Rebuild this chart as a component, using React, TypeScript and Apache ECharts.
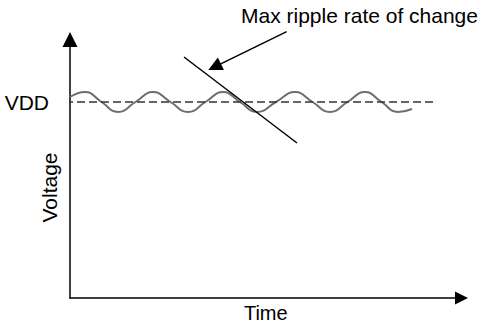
import React, { useEffect, useRef } from "react";
import * as echarts from "echarts";

// Time axis runs 0..X_MAX, voltage axis 0..Y_MAX (arbitrary schematic units)
const X_MAX = 391.5;
const Y_MAX = 258.5;
const VDD = 196;

// Ripple waveform (peaks, crossings, troughs)
const waveTime = [0, 15, 31.5, 48, 65.5, 83, 100.5, 118, 135.5, 153, 170, 187, 206, 225, 242.5, 260, 277.5, 295, 311.5, 328, 342];
const waveVolt = [201, 206, 196, 186, 196, 206, 196, 186, 196, 206, 196, 186, 196, 206, 196, 186, 196, 206, 196, 186, 189];

// Dashed VDD reference line extent
const vddTime = [-17, 365];

// Tangent line at max rate of change
const slopeTime = [114, 227];
const slopeVolt = [241, 155];

// Callout arrow (start, arrow head)
const calloutTime = [216.7, 144.6];
const calloutVolt = [266.3, 231.1];

const FONT = "'Liberation Sans', Arial, Helvetica, sans-serif";

export default function App() {
  const ref = useRef<HTMLDivElement>(null);
  useEffect(() => {
    if (!ref.current) return;
    const chart = echarts.init(ref.current, null, { renderer: "svg" });
    chart.setOption({
      animation: false,
      backgroundColor: "#ffffff",
      textStyle: { fontFamily: FONT },
      grid: { left: 70, right: 18.5, top: 39.5, bottom: 28, containLabel: false, outerBoundsMode: "none" },
      xAxis: {
        type: "value",
        min: 0,
        max: X_MAX,
        name: "Time",
        nameLocation: "middle",
        nameGap: 5,
        nameTextStyle: { fontSize: 20, color: "#000", fontFamily: FONT },
        axisLine: {
          show: true,
          lineStyle: { color: "#000", width: 1.5 },
          symbol: ["none", "triangle"],
          symbolSize: [13, 13],
        },
        axisTick: { show: false },
        axisLabel: { show: false },
        splitLine: { show: false },
      },
      yAxis: {
        type: "value",
        min: 0,
        max: Y_MAX,
        interval: VDD,
        axisLine: {
          show: true,
          lineStyle: { color: "#000", width: 1.5 },
          symbol: ["none", "triangle"],
          symbolSize: [15, 15],
        },
        axisTick: { show: false },
        axisLabel: {
          show: true,
          margin: 21,
          fontSize: 21,
          color: "#000",
          fontFamily: FONT,
          formatter: (v: number) => (v === VDD ? "VDD" : ""),
        },
        splitLine: { show: false },
      },
      graphic: [
        {
          type: "text",
          x: 241,
          y: 15,
          style: {
            text: "Max ripple rate of change",
            fontSize: 21,
            fontFamily: FONT,
            fill: "#000",
            verticalAlign: "middle",
            align: "left",
          },
        },
        {
          type: "text",
          x: 49,
          y: 187.5,
          rotation: Math.PI / 2,
          style: {
            text: "Voltage",
            fontSize: 21,
            fontFamily: FONT,
            fill: "#000",
            verticalAlign: "middle",
            align: "center",
          },
        },
      ],
      series: [
        {
          type: "line",
          silent: true,
          smooth: 0.5,
          symbol: "none",
          data: waveTime.map((t, i) => [t, waveVolt[i]]),
          lineStyle: { color: "#6e6e6e", width: 2 },
          z: 2,
        },
        {
          type: "line",
          silent: true,
          clip: false,
          symbol: "none",
          data: vddTime.map((t) => [t, VDD]),
          lineStyle: { color: "#333", width: 1.5, type: [8, 4] },
          z: 3,
        },
        {
          type: "line",
          silent: true,
          clip: false,
          symbol: "none",
          data: slopeTime.map((t, i) => [t, slopeVolt[i]]),
          lineStyle: { color: "#000", width: 1.5 },
          z: 4,
        },
        {
          type: "line",
          silent: true,
          clip: false,
          showSymbol: true,
          data: [
            { value: [calloutTime[0], calloutVolt[0]], symbol: "none" },
            { value: [calloutTime[1], calloutVolt[1]], symbol: "triangle", symbolSize: 14, symbolRotate: 116 },
          ],
          itemStyle: { color: "#000" },
          lineStyle: { color: "#000", width: 1.5 },
          z: 5,
        },
      ],
    });
    return () => chart.dispose();
  }, []);
  return (
    <div
      ref={ref}
      style={{ position: "fixed", left: 0, top: 0, width: 480, height: 326, background: "#fff" }}
    />
  );
}
